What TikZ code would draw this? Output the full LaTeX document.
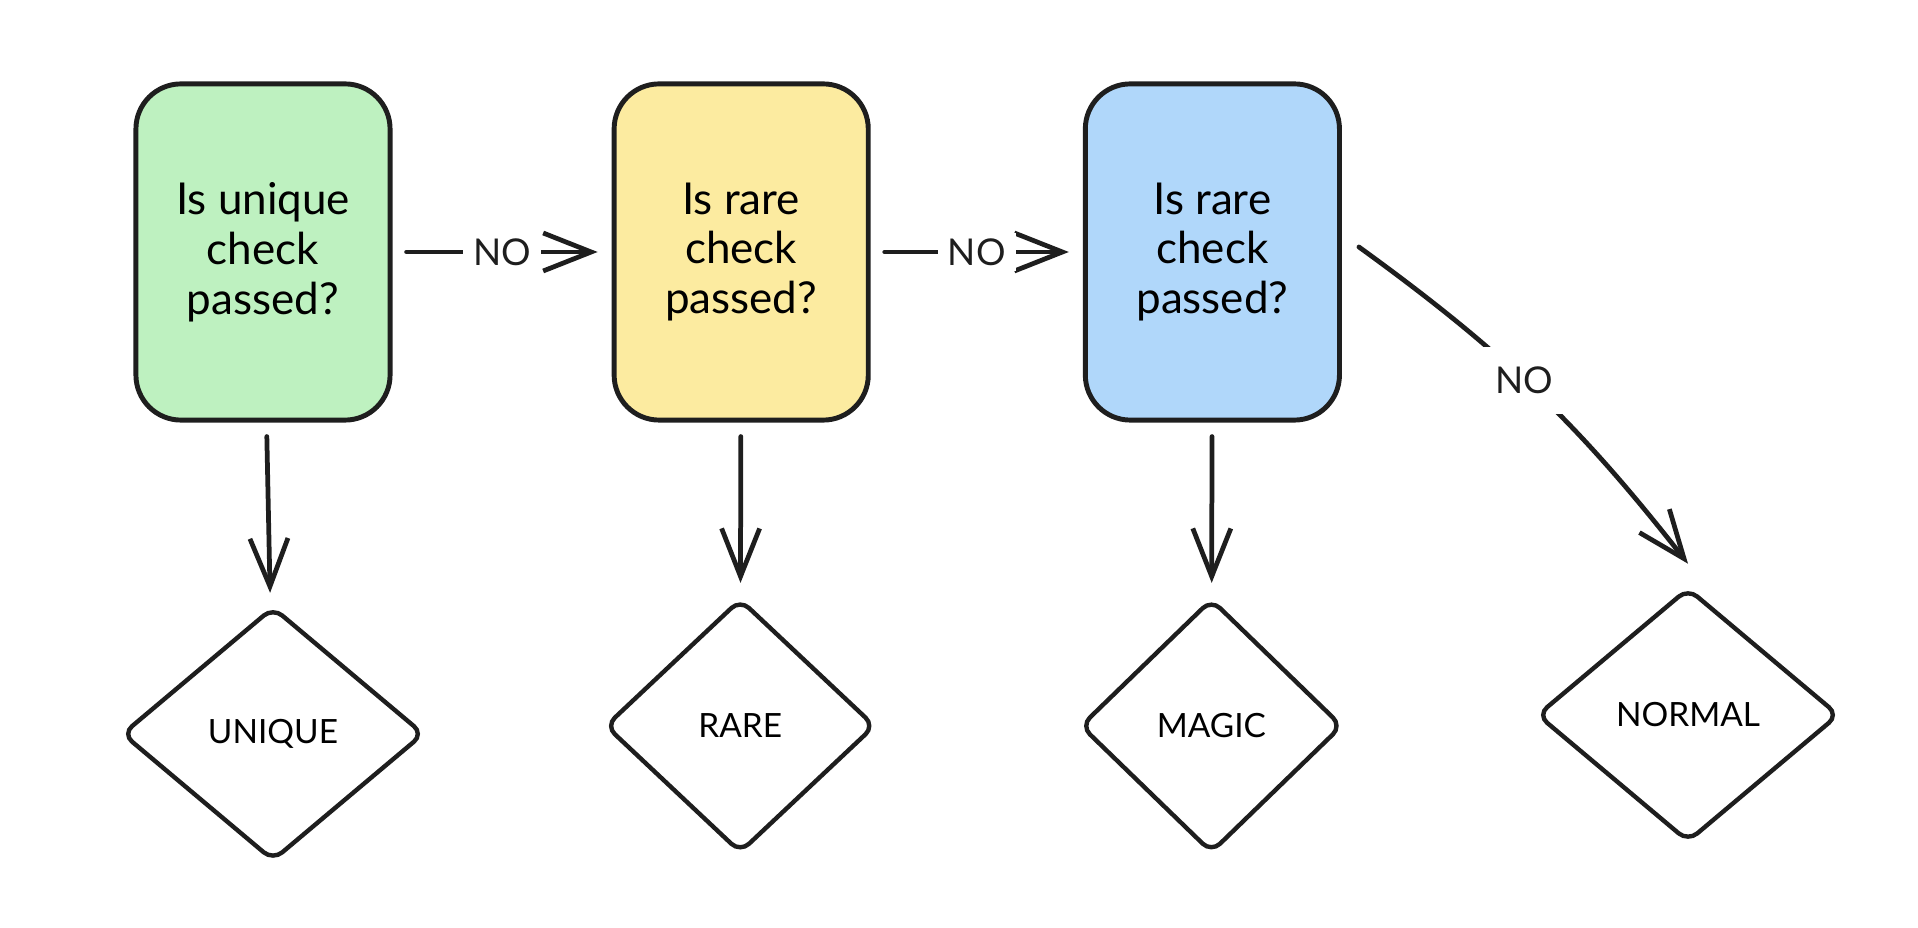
\documentclass[tikz,border=0pt]{standalone}
\usepackage{fontspec}
\setmainfont{Lato}
\usepackage{tikz}
\usetikzlibrary{positioning}
\usetikzlibrary{shapes.geometric}
\usetikzlibrary{arrows.meta}
\usepackage{xcolor}
\definecolor{ink}{HTML}{1E1E1E}
\definecolor{uniquefill}{HTML}{BEF1C0}
\definecolor{rarefill}{HTML}{FCEBA0}
\definecolor{magicfill}{HTML}{B0D7FA}

\begin{document}
\begin{tikzpicture}[x=0.01cm, y=-0.01cm,
	check/.style = {draw=ink, line width=1.4pt, rounded corners=0.45cm, minimum width=2.54cm, minimum height=3.36cm, align=center, font=\fontsize{12.5}{14.2}\selectfont},
	result/.style = {draw=ink, line width=1.25pt, diamond, rounded corners=0.12cm, inner sep=0pt, minimum height=2.54cm, font=\fontsize{9.5}{11}\selectfont},
	go/.style = {draw=ink, line width=1.35pt, line cap=round, shorten <=0.14cm, shorten >=0.14cm, -{Straight Barb[length=0.48cm, width=0.38cm]}},
	no/.style = {fill=white, inner xsep=0.1cm, inner ysep=0.05cm, text=ink, font=\fontsize{10.5}{13}\selectfont}]
	\useasboundingbox (0,0) rectangle (1918,928);
	\node[check, fill=uniquefill] (check1) at (263,252) {Is unique\\check\\passed?};
	\node[check, fill=rarefill] (check2) [right=2.19cm of check1] {Is rare\\check\\passed?};
	\node[check, fill=magicfill] (check3) [right=2.12cm of check2] {Is rare\\check\\passed?};
	\node[result, minimum width=3.02cm] (unique) [below=1.82cm of check1, xshift=0.1cm] {UNIQUE};
	\node[result, minimum width=2.7cm] (rare) [below=1.74cm of check2, xshift=-0.01cm] {RARE};
	\node[result, minimum width=2.62cm] (magic) [below=1.74cm of check3, xshift=-0.01cm] {MAGIC};
	\node[result, minimum width=3.02cm] (normal) at (1688,715) {NORMAL};
	\draw[go] (check1) -- node[no] {NO} (check2);
	\draw[go] (check2) -- node[no] {NO} (check3);
	\draw[go] (check1) -- (unique);
	\draw[go] (check2) -- (rare);
	\draw[go] (check3) -- (magic);
	\draw[go, shorten <=0cm, shorten >=0cm] ([xshift=0.17cm, yshift=0.05cm]check3.east) to[bend left=8] node[no, pos=0.46, inner sep=0.2cm] {NO} ([yshift=0.22cm]normal.north);
\end{tikzpicture}
\end{document}
